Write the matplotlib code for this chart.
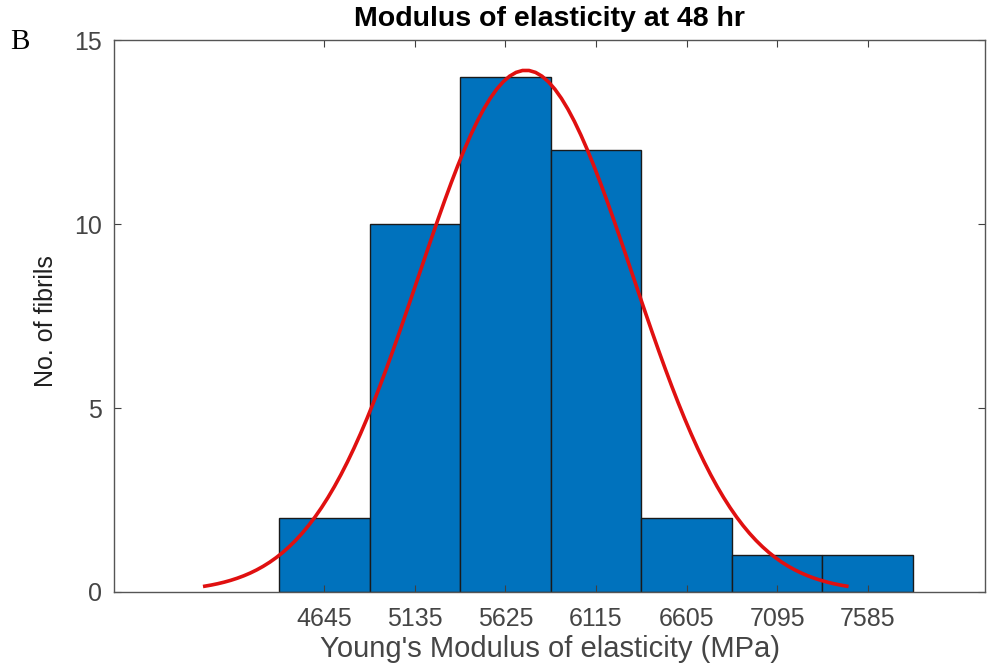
import numpy as np
import matplotlib
matplotlib.use('Agg')
import matplotlib.pyplot as plt

# histogram bins (centres) and counts
bin_centers = [4645, 5135, 5625, 6115, 6605, 7095, 7585]
counts = [2, 10, 14, 12, 2, 1, 1]
bin_width = 490

# normal fit parameters
fit_mu = 5735
fit_sigma = 579

plt.rcParams['font.family'] = ['Liberation Sans', 'DejaVu Sans']

fig = plt.figure(figsize=(9.89, 6.68), dpi=100)
ax = fig.add_axes([0.1153, 0.1138, 0.8807, 0.8262])

ax.bar(bin_centers, counts, width=bin_width, color='#0072BD',
       edgecolor='#1a1a1a', linewidth=1.0)

xx = np.linspace(fit_mu - 3 * fit_sigma, fit_mu + 3 * fit_sigma, 100)
n = sum(counts)
yy = n * bin_width / (fit_sigma * np.sqrt(2 * np.pi)) * np.exp(-0.5 * ((xx - fit_mu) / fit_sigma) ** 2)
ax.plot(xx, yy, color='#e01010', linewidth=2.6)

ax.set_xlim(3507, 8220)
ax.set_ylim(0, 15)
ax.set_xticks(bin_centers)
ax.set_yticks([0, 5, 10, 15])
ax.tick_params(direction='in', top=True, right=True, length=5,
               labelsize=18, labelcolor='#454545', color='#404040', pad=9)
ax.tick_params(axis='x', pad=11)
for s in ax.spines.values():
    s.set_color('#555555')
    s.set_linewidth(1.0)

ax.set_title('Modulus of elasticity at 48 hr', fontsize=20.5, fontweight='bold', pad=10)
ax.set_xlabel("Young's Modulus of elasticity (MPa)", fontsize=21, color='#454545', labelpad=3)
ax.set_ylabel('No. of fibrils', fontsize=18, color='#202020')
ax.yaxis.set_label_coords(-0.064, 0.49)

fig.text(0.010, 0.927, 'B', family='Liberation Serif', fontsize=21, color='black')

fig.savefig('out.png', dpi=100)
